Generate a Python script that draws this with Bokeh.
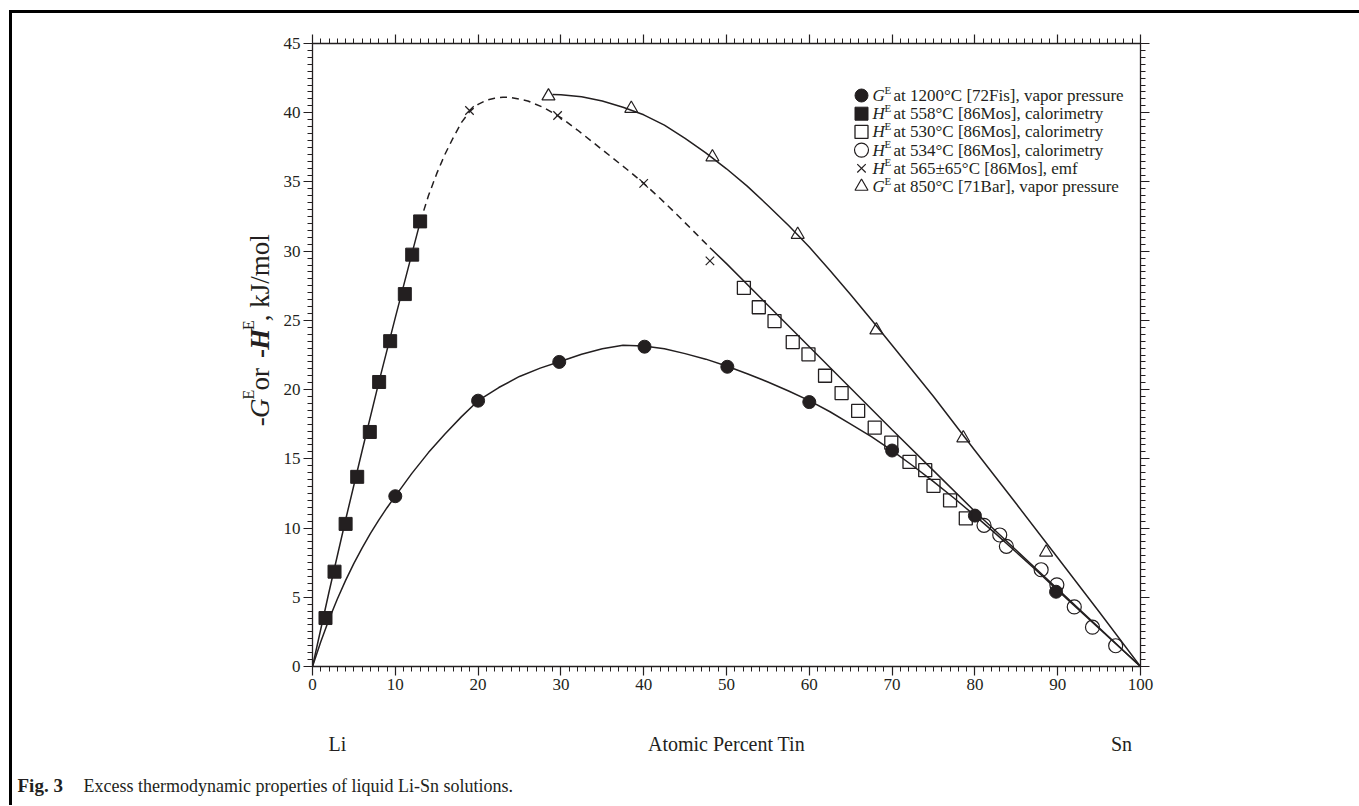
import numpy as np
from bokeh.plotting import figure
from bokeh.models import LinearAxis, Label, Range1d, FixedTicker
from bokeh.layouts import column, row
from bokeh.embed import file_html
from bokeh.resources import INLINE

INK = "#231f20"
FONT = "Liberation Serif"

# ---------------- data ----------------
# G^E at 1200 C [72Fis], vapor pressure (filled circles)
g1200_x = [10, 20, 29.8, 40.1, 50.1, 60.0, 70.0, 80.0, 89.8]
g1200_y = [12.3, 19.2, 22.0, 23.1, 21.65, 19.1, 15.6, 10.9, 5.4]
# H^E at 558 C [86Mos], calorimetry (filled squares)
h558_x = [1.57, 2.66, 4.0, 5.4, 6.92, 8.05, 9.38, 11.15, 12.04, 13.0]
h558_y = [3.5, 6.85, 10.3, 13.7, 16.94, 20.55, 23.5, 26.9, 29.75, 32.15]
# H^E at 530 C [86Mos], calorimetry (open squares)
h530_x = [52.1, 53.9, 55.8, 58.0, 59.9, 61.9, 63.9, 65.9, 67.9, 69.9, 72.1, 74.0, 75.0, 77.0, 78.9]
h530_y = [27.35, 25.95, 24.95, 23.43, 22.55, 21.0, 19.75, 18.46, 17.25, 16.17, 14.78, 14.18, 13.05, 12.0, 10.7]
# H^E at 534 C [86Mos], calorimetry (open circles)
h534_x = [81.1, 83.0, 83.8, 88.0, 89.9, 92.0, 94.2, 97.0]
h534_y = [10.2, 9.5, 8.68, 6.99, 5.9, 4.3, 2.84, 1.5]
# H^E at 565+-65 C [86Mos], emf (crosses)
hemf_x = [18.96, 29.6, 40.0, 48.0]
hemf_y = [40.16, 39.8, 34.9, 29.3]
# G^E at 850 C [71Bar], vapor pressure (open triangles)
g850_x = [28.5, 38.5, 48.3, 58.6, 68.1, 78.6, 88.6]
g850_y = [41.2, 40.3, 36.8, 31.2, 24.3, 16.5, 8.25]

# assessed curves
curveA_x = [0, 1, 2, 3, 4, 5, 6, 7, 8, 9, 10, 12, 14, 16, 18, 20, 22.5, 25, 27.5, 30, 32.5, 35,
            37.5, 40, 42.5, 45, 47.5, 50, 52.5, 55, 57.5, 60, 62.5, 65, 67.5, 70, 72.5, 75, 77.5,
            80, 82.5, 85, 87.5, 90, 92.5, 95, 97.5, 100]
curveA_y = [0, 1.79, 3.41, 4.88, 6.22, 7.45, 8.57, 9.61, 10.57, 11.47, 12.31, 13.95, 15.45, 16.8,
            18.05, 19.2, 20.15, 20.95, 21.55, 22.05, 22.55, 22.95, 23.2, 23.15, 22.95, 22.6, 22.2,
            21.7, 21.15, 20.55, 19.9, 19.2, 18.4, 17.5, 16.6, 15.6, 14.5, 13.35, 12.15, 10.9, 9.6,
            8.25, 6.9, 5.5, 4.12, 2.75, 1.37, 0]
curveB1_x = [0, 2, 4, 6, 8, 10, 12, 13]
curveB1_y = [0, 5.4, 10.6, 15.6, 20.5, 25.2, 29.8, 32.1]
curveB2_x = [13, 14, 15, 16, 17, 18, 19, 20, 21, 22, 23, 24, 26, 28, 30, 32, 34, 36, 38, 40, 42, 44, 46, 48]
curveB2_y = [32.1, 34.0, 35.6, 37.0, 38.2, 39.3, 40.1, 40.6, 40.9, 41.05, 41.12, 41.1, 40.85, 40.35,
             39.65, 38.75, 37.8, 36.85, 35.9, 34.9, 33.8, 32.65, 31.45, 30.25]
curveB3_x = [48, 50, 55, 60, 65, 70, 75, 80, 85, 90, 95, 100]
curveB3_y = [30.25, 29.1, 26.1, 23.1, 20.1, 17.1, 14.15, 11.2, 8.4, 5.6, 2.8, 0]
curveC_x = [29, 30, 32.5, 35, 37.5, 40, 42.5, 45, 47.5, 50, 52.5, 55, 57.5, 60, 62.5, 65, 67.5,
            70, 75, 80, 85, 90, 95, 100]
curveC_y = [41.32, 41.3, 41.15, 40.85, 40.4, 39.85, 39.1, 38.15, 37.1, 35.95, 34.7, 33.3, 31.85,
            30.3, 28.6, 26.85, 25.05, 23.2, 19.5, 15.6, 11.75, 7.85, 3.95, 0]

x_ticks = [0, 10, 20, 30, 40, 50, 60, 70, 80, 90, 100]
y_ticks = [0, 5, 10, 15, 20, 25, 30, 35, 40, 45]

legend_sym = ["G", "H", "H", "H", "H", "G"]
legend_text = ["at 1200°C [72Fis], vapor pressure",
               "at 558°C [86Mos], calorimetry",
               "at 530°C [86Mos], calorimetry",
               "at 534°C [86Mos], calorimetry",
               "at 565±65°C [86Mos], emf",
               "at 850°C [71Bar], vapor pressure"]

# ---------------- page geometry (page pixels) ----------------
OX, OY = 12, 13            # top-left of content (inside the frame border)
LEFT_W = 262               # width of the y-title strip
MAIN_W, MAIN_H = 1085, 687
BOT_H = 105
FX0, FX1 = 312, 1140       # page x of x=0 and x=100
FY1, FY0 = 43, 666         # page y of y=45 and y=0
SX = (FX1 - FX0) / 100.0
SY = (FY0 - FY1) / 45.0

main_left = OX + LEFT_W
p = figure(width=MAIN_W, height=MAIN_H, x_range=Range1d(0, 100), y_range=Range1d(0, 45),
           output_backend="svg", toolbar_location=None,
           min_border_left=FX0 - main_left, min_border_right=main_left + MAIN_W - FX1,
           min_border_top=FY1 - OY, min_border_bottom=OY + MAIN_H - FY0)
p.background_fill_color = "white"
p.border_fill_color = "white"
p.outline_line_color = None
p.grid.visible = False

xt = FixedTicker(ticks=x_ticks, minor_ticks=list(np.arange(0, 101, 1.0)))
yt = FixedTicker(ticks=y_ticks, minor_ticks=list(np.arange(0, 45.01, 0.5)))


def style_axis(ax, labels=True):
    ax.axis_line_color = INK
    ax.axis_line_width = 1.3
    ax.major_tick_line_color = INK
    ax.minor_tick_line_color = INK
    ax.major_tick_line_width = 1.2
    ax.minor_tick_line_width = 1.0
    ax.major_tick_in = 0
    ax.major_tick_out = 9
    ax.minor_tick_in = 0
    ax.minor_tick_out = 5
    ax.major_label_text_font = FONT
    ax.major_label_text_color = INK
    if labels:
        ax.major_label_text_font_size = "17px"
        ax.major_label_standoff = 3
    else:
        ax.major_label_text_font_size = "1px"
        ax.major_label_text_color = None
        ax.major_label_standoff = 0


p.xaxis.ticker = xt
p.yaxis.ticker = yt
style_axis(p.xaxis[0])
style_axis(p.yaxis[0])
p.yaxis[0].major_label_standoff = 3
top_ax = LinearAxis(ticker=xt)
right_ax = LinearAxis(ticker=yt)
style_axis(top_ax, labels=False)
style_axis(right_ax, labels=False)
p.add_layout(top_ax, "above")
p.add_layout(right_ax, "right")

# curves
p.line(curveA_x, curveA_y, line_color=INK, line_width=1.5)
p.line(curveB1_x, curveB1_y, line_color=INK, line_width=1.5)
p.line(curveB2_x, curveB2_y, line_color=INK, line_width=1.5, line_dash="7 5")
p.line(curveB3_x, curveB3_y, line_color=INK, line_width=1.5)
p.line(curveC_x, curveC_y, line_color=INK, line_width=1.5)

MK = [
    dict(marker="circle", size=13, fill_color=INK, line_color=INK, line_width=1),
    dict(marker="square", size=13, fill_color=INK, line_color=INK, line_width=1),
    dict(marker="square", size=13, fill_color=None, line_color=INK, line_width=1.3),
    dict(marker="circle", size=14, fill_color=None, line_color=INK, line_width=1.2),
    dict(marker="x", size=12, line_color=INK, line_width=1.2),
    dict(marker="triangle", size=13, fill_color=None, line_color=INK, line_width=1.2),
]
series = [(g1200_x, g1200_y), (h558_x, h558_y), (h530_x, h530_y),
          (h534_x, h534_y), (hemf_x, hemf_y), (g850_x, g850_y)]
for (sx, sy), mk in zip(series, MK):
    p.scatter(sx, sy, **mk)


def px2x(px):
    return (px - FX0) / SX


def px2y(py):
    return (FY0 - py) / SY


def label(fig, x, y, text, size, style="normal", angle=0.0, align="left"):
    # (x, y) is the visual centre line of the text (middle baseline)
    fig.add_layout(Label(x=x, y=y, text=text, text_font=FONT, text_font_size=f"{size}px",
                         text_font_style=style, text_color=INK, text_align=align,
                         text_baseline="middle", angle=angle))


# legend (inside the plot frame)
LEG_X, LEG_Y0, LEG_DY = 861, 95, 18.2
for i, (sym, txt, mk) in enumerate(zip(legend_sym, legend_text, MK)):
    cy = LEG_Y0 + LEG_DY * i
    p.scatter([px2x(LEG_X)], [px2y(cy)], **mk)
    label(p, px2x(LEG_X + 11), px2y(cy), sym, 17, "italic")
    label(p, px2x(LEG_X + 23), px2y(cy - 6), "E", 11)
    label(p, px2x(LEG_X + 32), px2y(cy), txt, 17)


def text_fig(w, h, x0, y0):
    f = figure(width=w, height=h, x_range=Range1d(x0, x0 + w), y_range=Range1d(y0 + h, y0),
               x_axis_type=None, y_axis_type=None, output_backend="svg",
               toolbar_location=None, min_border=0)
    f.outline_line_color = None
    f.background_fill_color = "white"
    f.border_fill_color = "white"
    f.grid.visible = False
    return f


# y-axis title strip (data units = page pixels), text rotated to read upwards
left = text_fig(LEFT_W, MAIN_H, OX, OY)
A = np.pi / 2
BX, SUPX = 259, 248
label(left, BX, 435, "-", 27, "normal", A)
label(left, BX, 426, "G", 27, "italic", A)
label(left, SUPX, 405.5, "E", 16, "normal", A)
label(left, BX, 395.7, " or ", 27, "normal", A)
label(left, BX, 359.7, "-", 27, "bold", A)
label(left, BX, 350.7, "H", 27, "bold italic", A)
label(left, SUPX, 329, "E", 16, "normal", A)
label(left, BX, 319.2, ", kJ/mol", 27, "normal", A)

# bottom strip: end members, axis title and caption
bottom = text_fig(LEFT_W + MAIN_W, BOT_H, OX, OY + MAIN_H)
label(bottom, 337, 743, "Li", 20, align="center")
label(bottom, (FX0 + FX1) / 2, 743, "Atomic Percent Tin", 20, align="center")
label(bottom, 1121, 743, "Sn", 20, align="center")
label(bottom, 17, 785, "Fig. 3", 19, "bold")
label(bottom, 83, 785, "Excess thermodynamic properties of liquid Li-Sn solutions.", 18)

root = column(row(left, p), bottom,
              styles={"margin-left": "9px", "margin-top": "10px",
                      "border-top": "3px solid #000000", "border-left": "3px solid #000000"})
open("out.html", "w").write(file_html(root, INLINE))
